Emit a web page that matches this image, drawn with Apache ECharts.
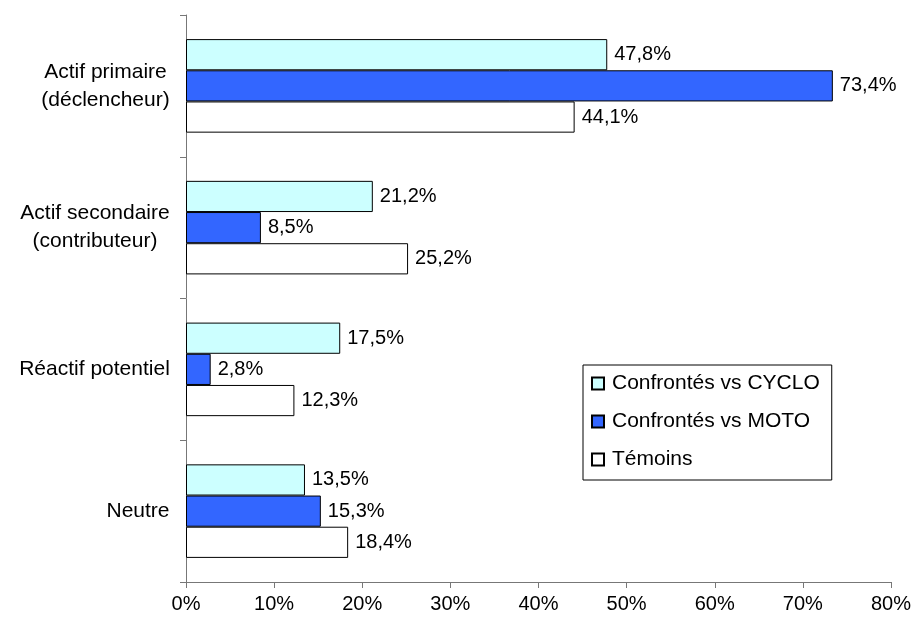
<!DOCTYPE html>
<html>
<head>
<meta charset="utf-8">
<script src="https://cdn.jsdelivr.net/npm/echarts@6/dist/echarts.min.js"></script>
<style>
  html, body { margin: 0; padding: 0; background: #fff; }
  #chart { width: 912px; height: 623px; }
</style>
</head>
<body>
<div id="chart"></div>
<script>
// Categories, top to bottom
const categories = [
  'Actif primaire\n(déclencheur)',
  'Actif secondaire\n(contributeur)',
  'Réactif potentiel',
  'Neutre'
];
const seriesNames = ['Confrontés vs CYCLO', 'Confrontés vs MOTO', 'Témoins'];
const cycloValues = [47.8, 21.2, 17.5, 13.5];
const motoValues = [73.4, 8.5, 2.8, 15.3];
const temoinsValues = [44.1, 25.2, 12.3, 18.4];
const xTicks = [0, 10, 20, 30, 40, 50, 60, 70, 80];

const FONT = 'Liberation Sans, Arial, sans-serif';
const FS = 20;      // ticks and value labels
const FS_CAT = 21;  // category labels
const FS_LEG = 21;  // legend

// Measure each label block so its lines can be centred inside it
const ctx = document.createElement('canvas').getContext('2d');
ctx.font = FS_CAT + 'px ' + FONT;
const rich = {};
categories.forEach((c, i) => {
  const w = Math.max(...c.split('\n').map(l => ctx.measureText(l).width));
  rich['c' + i] = { width: Math.ceil(w), align: 'center', fontSize: FS_CAT, fontFamily: FONT, color: '#000', lineHeight: 28 };
});

const pct = v => v.toFixed(1).replace('.', ',') + '%';

const colors = ['#CCFFFF', '#3366FF', '#FFFFFF'];
const allValues = [cycloValues, motoValues, temoinsValues];

const chart = echarts.init(document.getElementById('chart'), null, { renderer: 'canvas' });
chart.setOption({
  animation: false,
  backgroundColor: '#fff',
  textStyle: { fontFamily: FONT },
  grid: { left: 186, right: 21, top: 15, bottom: 41, containLabel: false, outerBoundsMode: 'none' },
  legend: {
    orient: 'vertical',
    left: 583,
    top: 365,
    padding: [8, 12, 10, 8],
    itemGap: 17,
    itemWidth: 12,
    itemHeight: 12,
    icon: 'rect',
    borderColor: '#000',
    borderWidth: 1,
    textStyle: { fontSize: FS_LEG, fontFamily: FONT, color: '#000', padding: [0, 0, 0, 3] },
    data: seriesNames
  },
  xAxis: {
    type: 'value',
    min: xTicks[0],
    max: xTicks[xTicks.length - 1],
    interval: 10,
    axisLine: { show: true, lineStyle: { color: '#777', width: 1 } },
    axisTick: { show: true, length: 6, lineStyle: { color: '#777' } },
    splitLine: { show: false },
    axisLabel: { margin: 12, fontSize: FS, fontFamily: FONT, color: '#000', formatter: '{value}%' }
  },
  yAxis: {
    type: 'category',
    inverse: true,
    data: categories,
    axisLine: { show: true, lineStyle: { color: '#777', width: 1 } },
    axisTick: { show: true, length: 6, lineStyle: { color: '#777' } },
    axisLabel: {
      margin: 16,
      fontSize: FS_CAT,
      fontFamily: FONT,
      color: '#000',
      lineHeight: 28,
      formatter: (value, idx) => value.split('\n').map(l => '{c' + idx + '|' + l + '}').join('\n'),
      rich: rich
    }
  },
  series: seriesNames.map((name, i) => ({
    name: name,
    type: 'bar',
    data: allValues[i],
    barGap: '0%',
    barCategoryGap: '34%',
    itemStyle: { color: colors[i], borderColor: '#000', borderWidth: 1 },
    label: {
      show: true,
      position: 'right',
      distance: 7,
      fontSize: FS,
      fontFamily: FONT,
      color: '#000',
      formatter: p => pct(p.value)
    }
  }))
});
</script>
</body>
</html>
